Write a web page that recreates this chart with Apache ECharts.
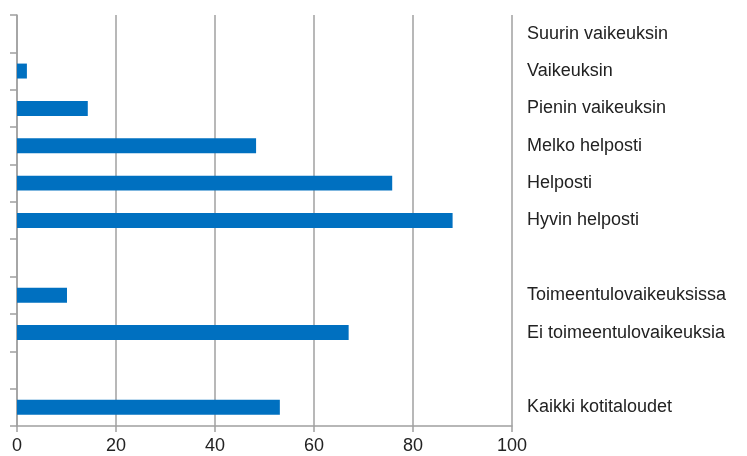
<!DOCTYPE html>
<html>
<head>
<meta charset="utf-8">
<script src="https://cdn.jsdelivr.net/npm/echarts@6/dist/echarts.min.js"></script>
<style>html,body{margin:0;padding:0;background:#fff;}#c{width:747px;height:456px;}</style>
</head>
<body>
<div id="c"></div>
<script>
const categories = ['Suurin vaikeuksin','Vaikeuksin','Pienin vaikeuksin','Melko helposti','Helposti','Hyvin helposti',' ','Toimeentulovaikeuksissa','Ei toimeentulovaikeuksia','  ','Kaikki kotitaloudet'];
const values = [0, 2.0, 14.3, 48.3, 75.8, 88.0, null, 10.1, 67.0, null, 53.1];
const xTicks = [0, 20, 40, 60, 80, 100];

const chart = echarts.init(document.getElementById('c'), null, {renderer: 'canvas'});
const font = 'Liberation Sans, Arial, sans-serif';
chart.setOption({
  animation: false,
  grid: {left: 17, right: 235, top: 15, bottom: 30, containLabel: false},
  xAxis: {
    type: 'value', min: xTicks[0], max: xTicks[xTicks.length-1], interval: 20,
    axisLine: {show: true, lineStyle: {color: '#a0a0a0', width: 1.5}},
    axisTick: {show: true, length: 6, lineStyle: {color: '#a0a0a0', width: 1.5}},
    splitLine: {show: true, lineStyle: {color: '#a0a0a0', width: 1.5}},
    axisLabel: {color: '#222', fontSize: 18, fontFamily: font, margin: 11}
  },
  yAxis: [{
    type: 'category', inverse: true, data: categories, position: 'left',
    axisLine: {show: true, lineStyle: {color: '#a0a0a0', width: 1.5}},
    axisTick: {show: true, length: 7, lineStyle: {color: '#a0a0a0', width: 1.5}},
    axisLabel: {show: false},
    splitLine: {show: false}
  }, {
    type: 'category', inverse: true, data: categories, position: 'right',
    axisLine: {show: false}, axisTick: {show: false},
    axisLabel: {show: true, color: '#222', fontSize: 18, fontFamily: font, margin: 15, align: 'left'},
    splitLine: {show: false}
  }],
  series: [{
    type: 'bar', data: values, yAxisIndex: 0, barWidth: '40%',
    itemStyle: {color: '#0070c0'}
  }]
});
</script>
</body>
</html>
